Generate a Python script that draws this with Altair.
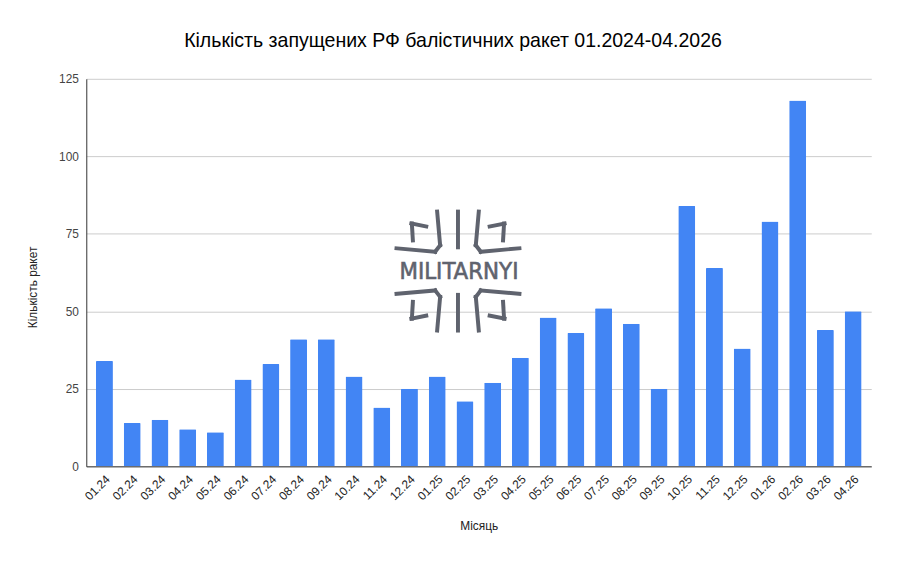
import altair as alt
import pandas as pd

months = ["01.24", "02.24", "03.24", "04.24", "05.24", "06.24", "07.24", "08.24",
          "09.24", "10.24", "11.24", "12.24", "01.25", "02.25", "03.25", "04.25",
          "05.25", "06.25", "07.25", "08.25", "09.25", "10.25", "11.25", "12.25",
          "01.26", "02.26", "03.26", "04.26"]
launches = [34, 14, 15, 12, 11, 28, 33, 41, 41, 29, 19, 25, 29, 21, 27, 35,
            48, 43, 51, 46, 25, 84, 64, 38, 79, 118, 44, 50]
y_ticks = [0, 25, 50, 75, 100, 125]

df = pd.DataFrame({"Місяць": months, "Кількість ракет": launches})

FONT = "Liberation Sans, Arial, sans-serif"

bars = alt.Chart(df).mark_bar(color="#4285F4", cornerRadiusTopLeft=1, cornerRadiusTopRight=1).encode(
    x=alt.X("Місяць:N", sort=months,
            scale=alt.Scale(paddingInner=0.39, paddingOuter=0.35),
            axis=alt.Axis(title="Місяць", labelAngle=-45, labelFontSize=12,
                          labelColor="#222222", labelFont=FONT, ticks=False,
                          labelPadding=7, domainColor="#333333",
                          titleFont=FONT, titleFontSize=12, titleFontWeight="normal",
                          titleColor="#222222", titlePadding=19)),
    y=alt.Y("Кількість ракет:Q",
            scale=alt.Scale(domain=[0, 125], nice=False),
            axis=alt.Axis(title="Кількість ракет", values=y_ticks, labelFontSize=12,
                          labelColor="#444444", labelFont=FONT, ticks=False,
                          labelPadding=8, domain=True, domainColor="#333333",
                          gridColor="#cccccc", titleFont=FONT, titleFontSize=12,
                          titleFontWeight="normal", titleColor="#222222",
                          titleX=-47, titleY=210)),
)

# --- MILITARNYI watermark (decoration, drawn in pixel space) ---
LOGO_COLOR = "#5f636e"
CX, CY = 375, 194
quarter = [
    ((-21, -60), (-18, -26)),
    ((-18, -26), (-23, -19.5)),
    ((-23, -19.5), (-62, -23)),
    ((-47, -48), (-32, -45)),
    ((-46.5, -48), (-45.5, -31)),
]
segments = [((0, -60), (0, -24)), ((0, 24), (0, 60))]
for (x1, y1), (x2, y2) in quarter:
    for sx in (1, -1):
        for sy in (1, -1):
            segments.append(((sx * x1, sy * y1), (sx * x2, sy * y2)))

logo_layers = []
dummy = pd.DataFrame({"k": [0]})
for (x1, y1), (x2, y2) in segments:
    logo_layers.append(
        alt.Chart(dummy).mark_rule(color=LOGO_COLOR, strokeWidth=4, strokeCap="square").encode(
            x=alt.value(CX + x1), y=alt.value(CY + y1),
            x2=alt.value(CX + x2), y2=alt.value(CY + y2))
    )

mark_df = pd.DataFrame({"t": ["MILITARNYI"]})
watermark = alt.Chart(mark_df).mark_text(
    font="DejaVu Sans Condensed, DejaVu Sans", fontSize=24, color=LOGO_COLOR, fontWeight="normal",
    align="center", baseline="middle", stroke=LOGO_COLOR, strokeWidth=0.6
).encode(text="t:N", x=alt.value(CX + 1), y=alt.value(CY + 1))

chart = alt.layer(bars, *logo_layers, watermark).properties(
    width=792, height=391,
    autosize=alt.AutoSizeParams(type="none"),
    padding={"left": 79, "top": 69, "right": 29, "bottom": 85},
    title=alt.TitleParams("Кількість запущених РФ балістичних ракет 01.2024-04.2026",
                          font=FONT, fontSize=19.7, fontWeight="normal", color="#000000",
                          anchor="middle", dx=-26, offset=22),
).configure_view(stroke=None)

chart.save("out.html", embed_options={"renderer": "svg", "actions": False})
